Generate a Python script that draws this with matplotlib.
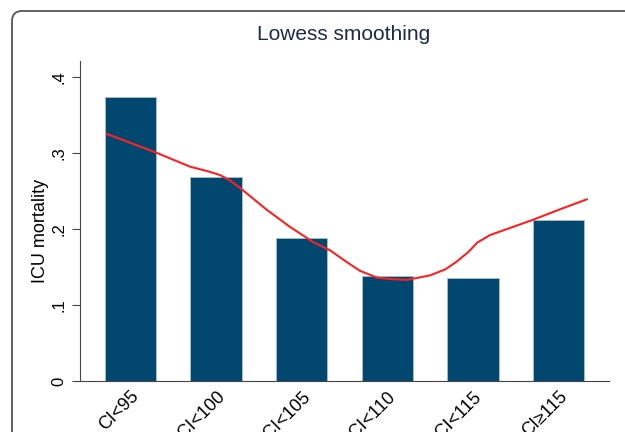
import numpy as np
import matplotlib.pyplot as plt
from matplotlib.patches import FancyBboxPatch
from matplotlib.transforms import IdentityTransform

plt.rcParams['font.family'] = ['Liberation Sans', 'DejaVu Sans']

# mortality by cardiac index group
groups = ['CI<95', '95≤CI<100', '100≤CI<105', '105≤CI<110', '110≤CI<115', 'CI≥115']
mortality = [0.374, 0.268, 0.188, 0.138, 0.136, 0.212]

# lowess curve (x in category units)
lowess_x = [-0.275, 0.31, 0.695, 0.90, 1.045, 1.16, 1.28, 1.595, 1.86, 2.13, 2.33, 2.52, 2.68, 2.88,
            3.05, 3.23, 3.50, 3.68, 3.81, 3.95, 4.05, 4.20, 4.40, 4.70, 5.02, 5.33]
lowess_y = [0.325, 0.300, 0.282, 0.276, 0.271, 0.264, 0.254, 0.225, 0.203, 0.183, 0.172, 0.157, 0.145, 0.136,
            0.134, 0.133, 0.139, 0.147, 0.157, 0.170, 0.182, 0.192, 0.200, 0.212, 0.226, 0.239]

yticks = [0, 0.1, 0.2, 0.3, 0.4]
ytick_labels = ['0', '.1', '.2', '.3', '.4']

fig = plt.figure(figsize=(6.25, 4.32), dpi=100)
fig.patch.set_facecolor('white')

# outer rounded frame (partly outside the picture)
frame = FancyBboxPatch((12, -100), 800, 521, boxstyle='round,pad=0,rounding_size=10',
                       transform=IdentityTransform(), facecolor='none',
                       edgecolor='#555555', linewidth=1.3)
fig.patches.append(frame)

ax = fig.add_axes([80/625, 1-381/432, 529/625, 320/432])
x = np.arange(len(groups))
ax.bar(x, mortality, width=0.6, color='#01476f', edgecolor='#a9bfd0', linewidth=0.6, zorder=2)
ax.plot(lowess_x, lowess_y, color='#ff2020', linewidth=1.5, zorder=3)

ax.set_xlim(-0.59, 5.59)
ax.set_ylim(0, 0.421)
ax.set_yticks(yticks)
ax.set_yticklabels(ytick_labels, rotation=90, va='center', fontsize=12)
ax.set_xticks(x)
ax.set_xticklabels(groups, rotation=45, ha='right', rotation_mode='anchor', fontsize=13)
ax.tick_params(axis='x', length=0, pad=5)
ax.tick_params(axis='y', length=6, color='#444444', pad=4)
ax.set_ylabel('ICU mortality', fontsize=13, va='center')
ax.yaxis.set_label_coords(-0.074, 0.47)

for s in ['top', 'right']:
    ax.spines[s].set_visible(False)
ax.spines['left'].set_color('#444444')
ax.spines['bottom'].set_color('#444444')

fig.text(344/625, 1-35/432, 'Lowess smoothing', ha='center', va='center',
         fontsize=15, color='#1a2a4a')

fig.savefig('out.png', dpi=100)
